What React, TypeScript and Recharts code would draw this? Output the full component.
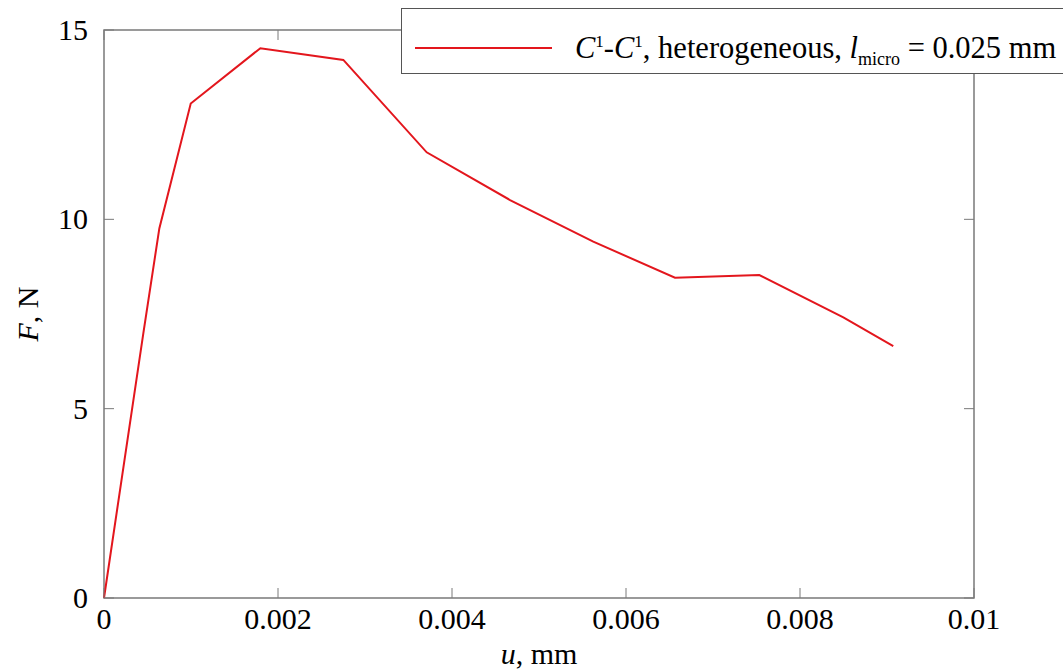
import { LineChart, Line, XAxis, YAxis, ReferenceArea, Legend } from 'recharts';

// displacement u (mm) and reaction force F (N)
const displacement = [0, 0.000452, 0.000636, 0.000997, 0.001797, 0.002751, 0.003709, 0.004667, 0.005624, 0.006563, 0.007532, 0.008498, 0.009072];
const force = [0, 6.99, 9.76, 13.06, 14.52, 14.21, 11.77, 10.51, 9.41, 8.46, 8.53, 7.41, 6.65];

const xTicks = [0, 0.002, 0.004, 0.006, 0.008, 0.01];
const xTickLabels = ['0', '0.002', '0.004', '0.006', '0.008', '0.01'];
const yTicks = [0, 5, 10, 15];
const yTickLabels = ['0', '5', '10', '15'];

const data = displacement.map((u, i) => ({ u, F: force[i] }));

const W = 1063;
const H = 670;
const TOP = 30;
const BOTTOM = 598;
const LEFT = 104;
const RIGHT = 974;
const FONT = 'Liberation Serif';
const FS = 30;
const RED = '#e3161d';
const FRAME = '#7a7a7a';

function XTick({ x, index }: any) {
  return (
    <g>
      <line x1={x} x2={x} y1={BOTTOM} y2={BOTTOM - 10} stroke={FRAME} />
      <line x1={x} x2={x} y1={TOP} y2={TOP + 10} stroke={FRAME} />
      <text x={x} y={BOTTOM + 31} textAnchor="middle" style={{ fontFamily: FONT, fontSize: FS }} fill="#000">
        {xTickLabels[index]}
      </text>
    </g>
  );
}

function YTick({ y, index }: any) {
  return (
    <g>
      <line x1={LEFT} x2={LEFT + 10} y1={y} y2={y} stroke={FRAME} />
      <line x1={RIGHT} x2={RIGHT - 10} y1={y} y2={y} stroke={FRAME} />
      <text x={LEFT - 16} y={y + 10} textAnchor="end" style={{ fontFamily: FONT, fontSize: FS }} fill="#000">
        {yTickLabels[index]}
      </text>
    </g>
  );
}

function XTitle({ viewBox }: any) {
  const cx = viewBox.x + viewBox.width / 2;
  return (
    <text x={cx} y={664} textAnchor="middle" style={{ fontFamily: FONT, fontSize: FS }} fill="#000">
      <tspan fontStyle="italic">u</tspan>, mm
    </text>
  );
}

function YTitle({ viewBox }: any) {
  const cy = viewBox.y + viewBox.height / 2;
  return (
    <text x={38} y={cy} transform={`rotate(-90, 38, ${cy})`} textAnchor="middle" style={{ fontFamily: FONT, fontSize: FS }} fill="#000">
      <tspan fontStyle="italic">F</tspan>, N
    </text>
  );
}

function LegendBox() {
  return (
    <div
      style={{
        display: 'flex',
        alignItems: 'center',
        boxSizing: 'border-box',
        width: 680,
        height: 66,
        border: `1px solid #555`,
        background: '#fff',
        paddingLeft: 13,
        paddingTop: 14,
        fontFamily: FONT,
        fontSize: 30.5,
        lineHeight: '34px',
        color: '#000',
        whiteSpace: 'nowrap',
      }}
    >
      <svg width={137} height={4} style={{ marginRight: 23 }}>
        <line x1={0} x2={137} y1={2} y2={2} stroke={RED} strokeWidth={2} />
      </svg>
      <span>
        <i>C</i>
        <sup style={{ fontSize: 17, lineHeight: 0 }}>1</sup>-<i>C</i>
        <sup style={{ fontSize: 17, lineHeight: 0 }}>1</sup>, heterogeneous, <i>l</i>
        <sub style={{ fontSize: 18, lineHeight: 0 }}>micro</sub> = 0.025 mm
      </span>
    </div>
  );
}

export default function App() {
  return (
    <div style={{ position: 'absolute', left: 0, top: 0, width: W, height: H, overflow: 'hidden', background: '#fff' }}>
      <LineChart width={W} height={H} data={data} margin={{ top: TOP, right: W - RIGHT, bottom: 0, left: 0 }}>
        <XAxis
          dataKey="u"
          type="number"
          domain={[0, 0.01]}
          ticks={xTicks}
          interval={0}
          tick={<XTick />}
          tickLine={false}
          axisLine={false}
          height={H - BOTTOM}
          label={<XTitle />}
        />
        <YAxis
          type="number"
          domain={[0, 15]}
          ticks={yTicks}
          interval={0}
          tick={<YTick />}
          tickLine={false}
          axisLine={false}
          width={LEFT}
          label={<YTitle />}
        />
        <ReferenceArea x1={0} x2={0.01} y1={0} y2={15} fill="none" stroke={FRAME} strokeWidth={1.5} />
        <Line
          type="linear"
          dataKey="F"
          stroke={RED}
          strokeWidth={2}
          dot={false}
          isAnimationActive={false}
        />
        <Legend
          layout="horizontal"
          verticalAlign="middle"
          align="center"
          content={<LegendBox />}
          wrapperStyle={{ position: 'absolute', left: 401, top: 8, width: 'auto' }}
        />
      </LineChart>
    </div>
  );
}
